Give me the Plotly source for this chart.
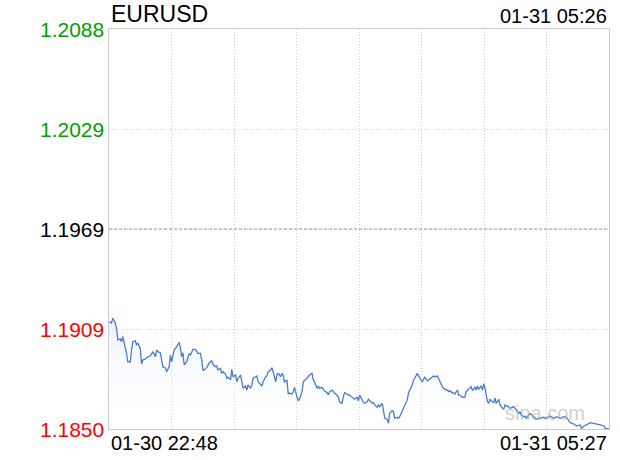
import plotly.graph_objects as go

# ---- data ----
symbol = "EURUSD"
stamp_label = "01-31 05:26"
start_label = "01-30 22:48"
end_label = "01-31 05:27"
session_minutes = 399  # 22:48 -> 05:27

y_tick_values = [1.18500, 1.19095, 1.19690, 1.20285, 1.20880]
y_tick_labels = ["1.1850", "1.1909", "1.1969", "1.2029", "1.2088"]
y_tick_colors = ["#ff0000", "#ff0000", "#000000", "#00a000", "#00a000"]
prev_close = 1.19690

minute_offsets = [
    0, 2, 3, 5, 6, 7, 9, 10, 11, 13, 14, 15, 17, 18, 19, 21, 22, 23, 25, 26,
    27, 29, 30, 31, 33, 34, 35, 37, 38, 39, 41, 42, 43, 45, 46, 48, 49, 50, 52, 54,
    56, 57, 58, 59, 60, 62, 64, 65, 67, 69, 71, 73, 74, 75, 77, 78, 80, 82, 83, 85,
    86, 87, 89, 90, 91, 93, 94, 95, 97, 98, 99, 101, 102, 103, 105, 106, 107, 109, 110, 111,
    113, 114, 115, 117, 118, 119, 121, 122, 123, 125, 126, 127, 129, 130, 131, 133, 134, 135, 137, 138,
    139, 140, 142, 143, 144, 146, 147, 148, 150, 151, 152, 154, 155, 156, 158, 159, 160, 162, 163, 164,
    166, 167, 168, 170, 171, 172, 174, 175, 176, 178, 179, 180, 182, 183, 184, 186, 187, 188, 190, 191,
    192, 194, 195, 196, 198, 199, 200, 202, 203, 204, 206, 207, 208, 210, 211, 212, 214, 215, 216, 218,
    219, 220, 222, 223, 224, 226, 227, 228, 230, 231, 232, 234, 235, 236, 238, 239, 240, 242, 243, 244,
    246, 247, 248, 250, 251, 252, 254, 255, 256, 258, 259, 260, 262, 263, 264, 266, 267, 268, 270, 271,
    272, 274, 275, 276, 278, 279, 280, 282, 283, 284, 285, 287, 289, 290, 292, 293, 294, 295, 297, 298,
    299, 300, 301, 302, 303, 304, 305, 307, 308, 309, 311, 312, 313, 315, 316, 317, 319, 320, 321, 323,
    324, 325, 327, 328, 329, 331, 332, 333, 335, 336, 339, 341, 344, 347, 349, 352, 355, 357, 360, 363,
    365, 368, 371, 373, 376, 377, 379, 381, 384, 387, 389, 392, 395, 396, 399,
]

prices = [
    1.19138, 1.19131, 1.19159, 1.19132, 1.19101, 1.19030, 1.19036, 1.19019, 1.19049, 1.18990,
    1.18952, 1.18900, 1.18900, 1.18970, 1.19019, 1.19024, 1.19000, 1.19012, 1.18976, 1.18887,
    1.18911, 1.18917, 1.18922, 1.18930, 1.18934, 1.18952, 1.18960, 1.18930, 1.18970, 1.18960,
    1.18952, 1.18911, 1.18869, 1.18863, 1.18841, 1.18871, 1.18940, 1.18900, 1.18970, 1.18990,
    1.19016, 1.18980, 1.18930, 1.18954, 1.18881, 1.18900, 1.18950, 1.18940, 1.18974, 1.18974,
    1.18950, 1.18950, 1.18911, 1.18847, 1.18861, 1.18865, 1.18894, 1.18906, 1.18885, 1.18871,
    1.18875, 1.18851, 1.18861, 1.18831, 1.18841, 1.18827, 1.18802, 1.18809, 1.18792, 1.18855,
    1.18811, 1.18821, 1.18781, 1.18802, 1.18821, 1.18772, 1.18742, 1.18756, 1.18732, 1.18762,
    1.18742, 1.18762, 1.18802, 1.18811, 1.18815, 1.18781, 1.18762, 1.18756, 1.18781, 1.18811,
    1.18815, 1.18841, 1.18851, 1.18865, 1.18841, 1.18781, 1.18821, 1.18831, 1.18811, 1.18831,
    1.18821, 1.18780, 1.18792, 1.18708, 1.18714, 1.18708, 1.18722, 1.18748, 1.18692, 1.18668,
    1.18677, 1.18722, 1.18781, 1.18787, 1.18802, 1.18811, 1.18821, 1.18831, 1.18792, 1.18781,
    1.18742, 1.18756, 1.18742, 1.18748, 1.18732, 1.18726, 1.18716, 1.18702, 1.18722, 1.18732,
    1.18722, 1.18714, 1.18702, 1.18692, 1.18662, 1.18653, 1.18692, 1.18716, 1.18708, 1.18702,
    1.18702, 1.18689, 1.18683, 1.18677, 1.18689, 1.18668, 1.18702, 1.18673, 1.18657, 1.18653,
    1.18662, 1.18677, 1.18668, 1.18653, 1.18657, 1.18643, 1.18629, 1.18643, 1.18633, 1.18653,
    1.18613, 1.18564, 1.18558, 1.18534, 1.18593, 1.18609, 1.18603, 1.18564, 1.18570, 1.18564,
    1.18573, 1.18603, 1.18623, 1.18643, 1.18673, 1.18714, 1.18732, 1.18762, 1.18792, 1.18802,
    1.18831, 1.18811, 1.18802, 1.18781, 1.18792, 1.18808, 1.18787, 1.18792, 1.18802, 1.18811,
    1.18815, 1.18811, 1.18815, 1.18802, 1.18781, 1.18752, 1.18742, 1.18736, 1.18732, 1.18722,
    1.18728, 1.18714, 1.18716, 1.18708, 1.18732, 1.18702, 1.18702, 1.18689, 1.18689, 1.18690,
    1.18722, 1.18736, 1.18752, 1.18728, 1.18748, 1.18732, 1.18756, 1.18736, 1.18756, 1.18732,
    1.18768, 1.18748, 1.18702, 1.18662, 1.18653, 1.18677, 1.18668, 1.18657, 1.18683, 1.18653,
    1.18677, 1.18643, 1.18633, 1.18617, 1.18643, 1.18637, 1.18633, 1.18623, 1.18626, 1.18633,
    1.18623, 1.18613, 1.18593, 1.18603, 1.18583, 1.18573, 1.18577, 1.18564, 1.18583, 1.18593,
    1.18573, 1.18558, 1.18564, 1.18570, 1.18564, 1.18577, 1.18564, 1.18573, 1.18564, 1.18573,
    1.18570, 1.18538, 1.18530, 1.18518, 1.18524, 1.18504, 1.18518, 1.18524, 1.18538, 1.18534,
    1.18530, 1.18524, 1.18518, 1.18504, 1.18500,
]

FONT = "Liberation Sans, Arial, Helvetica, sans-serif"
y_lo, y_hi = y_tick_values[0], y_tick_values[-1]

fig = go.Figure()
fig.add_trace(go.Scatter(
    x=minute_offsets, y=prices, mode="lines",
    line=dict(color="#4a7bcf", width=1.3),
    fill="tozeroy",
    fillgradient=dict(type="vertical", start=y_lo, stop=max(prices),
                      colorscale=[[0, "rgba(255,255,255,0)"], [1, "rgba(228,237,252,0.75)"]]),
    hoverinfo="skip", showlegend=False,
))

x_grid = [session_minutes * i / 8 for i in range(9)]

fig.update_layout(
    width=620, height=460,
    margin=dict(l=109, r=11, t=29, b=31),
    paper_bgcolor="white", plot_bgcolor="white",
    font=dict(family=FONT, color="#000"),
    xaxis=dict(
        range=[0, session_minutes], tickvals=x_grid, showticklabels=False,
        showgrid=True, gridcolor="#cfcfcf", griddash="1px,2px", gridwidth=1,
        showline=True, linecolor="#cccccc", linewidth=1, mirror=True,
        zeroline=False, ticks="",
    ),
    yaxis=dict(
        range=[y_lo, y_hi], tickvals=y_tick_values, showticklabels=False,
        showgrid=True, gridcolor="#cfcfcf", griddash="1px,2px", gridwidth=1,
        showline=True, linecolor="#cccccc", linewidth=1, mirror=True,
        zeroline=False, ticks="",
    ),
)

# previous-close reference line
fig.add_shape(type="line", xref="paper", x0=0, x1=1, yref="y", y0=prev_close, y1=prev_close,
              line=dict(color="#999999", width=1, dash="3px,2px"))

annotations = []
for v, lab, col in zip(y_tick_values, y_tick_labels, y_tick_colors):
    annotations.append(dict(x=0, xref="paper", y=v, yref="y", text=lab, showarrow=False,
                            xanchor="right", yanchor="middle", xshift=-3,
                            font=dict(size=21, color=col, family=FONT)))
annotations += [
    dict(x=0, xref="paper", y=1, yref="paper", text=symbol, showarrow=False,
         xanchor="left", yanchor="bottom", yshift=0, font=dict(size=23, color="#000", family=FONT)),
    dict(x=1, xref="paper", y=1, yref="paper", text=stamp_label, showarrow=False,
         xanchor="right", yanchor="bottom", yshift=0, font=dict(size=20, color="#000", family=FONT)),
    dict(x=0, xref="paper", y=0, yref="paper", text=start_label, showarrow=False,
         xanchor="left", yanchor="top", yshift=-1, font=dict(size=20, color="#000", family=FONT)),
    dict(x=1, xref="paper", y=0, yref="paper", text=end_label, showarrow=False,
         xanchor="right", yanchor="top", yshift=-1, font=dict(size=20, color="#000", family=FONT)),
    dict(x=0.872, xref="paper", y=0.04, yref="paper", text="sina.com", showarrow=False,
         xanchor="center", yanchor="middle", font=dict(size=20, color="rgba(170,170,170,0.55)", family=FONT)),
]
fig.update_layout(annotations=annotations)

fig.write_html("out.html", config={"displayModeBar": False},
               post_script="document.body.style.margin='0';")
